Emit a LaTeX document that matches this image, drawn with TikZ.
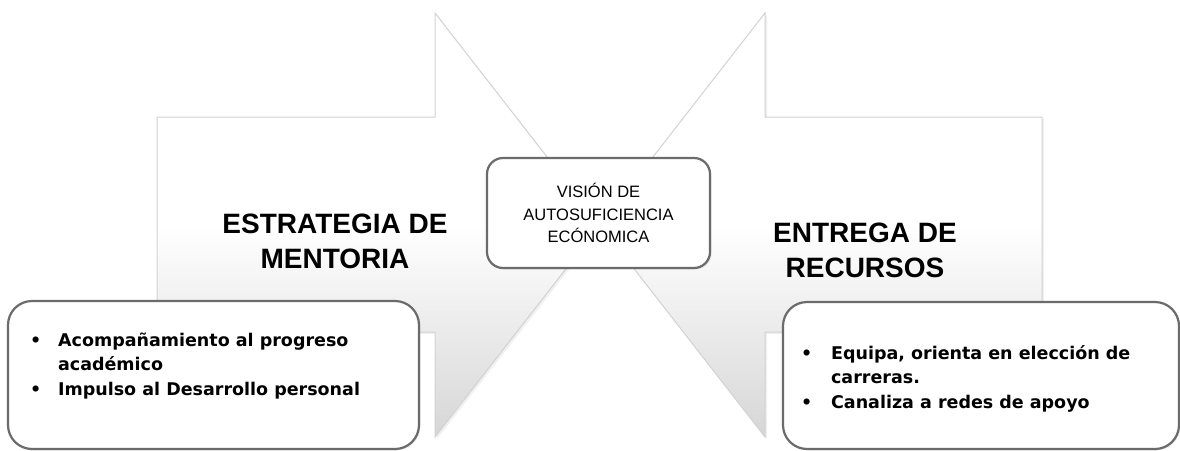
\documentclass[tikz,border=0pt]{standalone}
\usepackage{fontspec}
\setmainfont{Liberation Sans}
\newfontfamily\listafont{DejaVu Sans}
\usetikzlibrary{positioning,shadows}

\begin{document}
\begin{tikzpicture}[x=1pt,y=-1pt,
  flecha/.style={draw=gray!35, line width=1pt, top color=white, bottom color=gray!32, middle color=white,
    drop shadow={opacity=0.12, shadow xshift=2pt, shadow yshift=-2pt}},
  caja/.style={draw=black!58, line width=2.2pt, fill=white, rounded corners=16pt, inner sep=0pt,
    drop shadow={opacity=0.15, shadow xshift=1.5pt, shadow yshift=-1.5pt}},
  titulo/.style={font=\fontsize{28}{35}\selectfont\bfseries, align=center},
  lista/.style={font=\listafont\fontsize{17.5}{24.5}\selectfont\bfseries, anchor=north west, inner sep=0pt}]
\useasboundingbox (0,0) rectangle (1180,450);
% the two arrows, pointing to the middle
\path[flecha] (157,117) -- (435,117) -- (435,13) -- (600,225) -- (435,437) -- (435,332) -- (157,332) -- cycle;
\path[flecha] (1042,117) -- (765,117) -- (765,13) -- (600,225) -- (765,437) -- (765,332) -- (1042,332) -- cycle;
\node[titulo] (mentoria) at (335,241) {ESTRATEGIA DE\\MENTORIA};
\node[titulo] (recursos) at (865,250) {ENTREGA DE\\RECURSOS};
% middle box
\node[caja, minimum width=223pt, minimum height=110pt, align=center, font=\fontsize{16.5}{22.5}\selectfont] (vision) at (598.5,213) {VISI\'ON DE\\AUTOSUFICIENCIA\\EC\'ONOMICA};
% bottom boxes
\node[caja, rounded corners=24pt, minimum width=411pt, minimum height=148pt] (cajaizq) at (213.5,375) {};
\node[caja, rounded corners=24pt, minimum width=396pt, minimum height=147pt] (cajader) at (981,375.5) {};
\node[lista, below right=29pt and 23pt of cajaizq.north west] (listaizq) {\begin{tabular}{@{}p{28pt}@{}l@{}}
  \textbullet & Acompañamiento al progreso\\
   & académico\\
  \textbullet & Impulso al Desarrollo personal
\end{tabular}};
\node[lista, below right=41pt and 19pt of cajader.north west] (listader) {\begin{tabular}{@{}p{30pt}@{}l@{}}
  \textbullet & Equipa, orienta en elección de\\
   & carreras.\\
  \textbullet & Canaliza a redes de apoyo
\end{tabular}};
\end{tikzpicture}
\end{document}
